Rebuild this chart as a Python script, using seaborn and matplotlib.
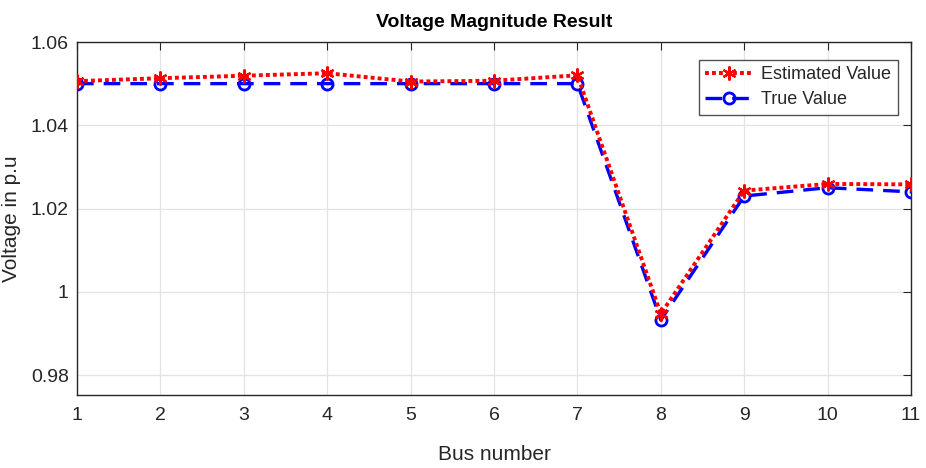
import matplotlib
matplotlib.use("Agg")
import matplotlib.pyplot as plt
import seaborn as sns
import pandas as pd

bus = [1, 2, 3, 4, 5, 6, 7, 8, 9, 10, 11]
estimated = [1.0506, 1.0513, 1.0519, 1.0525, 1.0505, 1.0507, 1.0520, 0.9947, 1.0243, 1.0259, 1.0258]
true_vals = [1.0500, 1.0500, 1.0500, 1.0500, 1.0500, 1.0500, 1.0500, 0.9932, 1.0230, 1.0250, 1.0240]
yticks = [0.98, 1.00, 1.02, 1.04, 1.06]
ytick_labels = ["0.98", "1", "1.02", "1.04", "1.06"]

sns.set_theme(style="white")
plt.rcParams["font.family"] = ["Liberation Sans", "DejaVu Sans"]

df = pd.DataFrame({"bus": bus, "est": estimated, "true": true_vals})

fig = plt.figure(figsize=(9.26, 4.68), dpi=100)
ax = fig.add_axes([77/926, 1 - 395/468, (911-77)/926, (395-42)/468])

sns.lineplot(data=df, x="bus", y="est", ax=ax, color="#ff0000", linestyle=(0, (1, 0.8)),
             linewidth=2.8, marker=(6, 2, 0), markersize=10, markeredgewidth=1.6,
             markeredgecolor="#ff0000", label="Estimated Value", zorder=3)
sns.lineplot(data=df, x="bus", y="true", ax=ax, color="#0000ff", linestyle=(0, (5, 3)),
             linewidth=2.4, marker="o", markersize=8, markerfacecolor="none",
             markeredgewidth=2, markeredgecolor="#0000ff", label="True Value", zorder=2)

ax.set_xlim(1, 11)
ax.set_ylim(0.9752, 1.06)
ax.set_xticks(bus)
ax.set_xticklabels([str(b) for b in bus])
ax.set_yticks(yticks)
ax.set_yticklabels(ytick_labels)
ax.grid(True, color="#e3e3e3", linewidth=0.9)
ax.set_axisbelow(True)
for s in ax.spines.values():
    s.set_color("#262626")
    s.set_linewidth(1.0)
ax.tick_params(axis="both", direction="in", length=6, width=0.8, colors="#262626",
               labelsize=14, top=True, right=True, labelcolor="#262626", pad=6)
ax.tick_params(axis="x", pad=9)
ax.set_xlabel("Bus number", fontsize=15, color="#262626")
ax.set_ylabel("Voltage in p.u", fontsize=15, color="#262626")
ax.yaxis.set_label_coords(-0.067, 0.5)
ax.xaxis.set_label_coords(0.5, -0.142)
ax.set_title("Voltage Magnitude Result", fontsize=14, fontweight="bold", color="black", pad=11)

leg = ax.legend(loc="upper right", fontsize=13, frameon=True, fancybox=False,
                edgecolor="#262626", handlelength=2.6, borderpad=0.35,
                bbox_to_anchor=(0.984, 0.949), borderaxespad=0,
                labelspacing=0.45, handletextpad=0.5)
leg.get_frame().set_linewidth(1.0)

fig.savefig("out.png", dpi=100)
